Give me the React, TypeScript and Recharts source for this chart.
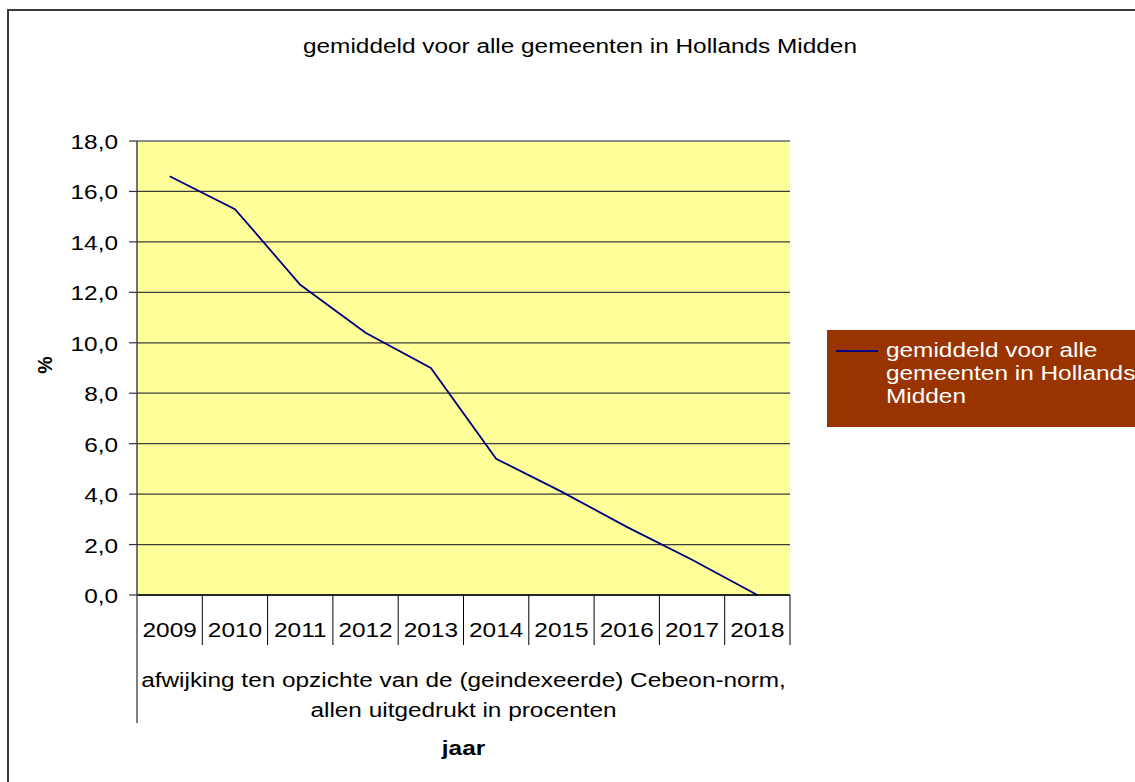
import React from 'react';
import { LineChart, Line, XAxis, YAxis, CartesianGrid, Legend, ReferenceLine } from 'recharts';

const years = ['2009', '2010', '2011', '2012', '2013', '2014', '2015', '2016', '2017', '2018'];
const gemiddeld = [16.6, 15.3, 12.3, 10.4, 9.0, 5.4, 4.1, 2.7, 1.4, 0.0];
const yTicks = [0, 2, 4, 6, 8, 10, 12, 14, 16, 18];
const seriesName = 'gemiddeld voor alle gemeenten in Hollands Midden';
const groupLabel = ['afwijking ten opzichte van de (geindexeerde) Cebeon-norm,', 'allen uitgedrukt in procenten'];

const data = years.map((jaar, i) => ({ jaar, waarde: gemiddeld[i] }));

const W = 1135;
const H = 782;
const PLOT_L = 137;
const PLOT_R = 790;
const BAND = (PLOT_R - PLOT_L) / years.length;
const FONT = '"Liberation Sans", Arial, sans-serif';
const FS = 19.5;
const SX = 1.25; // the source picture is stretched horizontally

const fmt = (v: number) => v.toFixed(1).replace('.', ',');

const YTick = (props: any) => {
  const { x, y, payload } = props;
  return (
    <text transform={`translate(${x},${y + 8}) scale(${SX},1)`} textAnchor="end" fontSize={FS} fontFamily={FONT} fill="#000">
      {fmt(payload.value)}
    </text>
  );
};

const XTick = (props: any) => {
  const { x, y, payload, index } = props;
  const last = index === years.length - 1;
  return (
    <g>
      {index > 0 && <line x1={x - BAND / 2} y1={y} x2={x - BAND / 2} y2={y + 50} stroke="#000" strokeWidth={1} />}
      {last && <line x1={x + BAND / 2} y1={y} x2={x + BAND / 2} y2={y + 50} stroke="#000" strokeWidth={1} />}
      <text transform={`translate(${x},${y + 42}) scale(${SX},1)`} textAnchor="middle" fontSize={FS} fontFamily={FONT} fill="#000">
        {payload.value}
      </text>
    </g>
  );
};

const XLabel = (props: any) => {
  const { viewBox } = props;
  const cx = viewBox.x + viewBox.width / 2;
  const top = viewBox.y;
  return (
    <g>
      <line x1={viewBox.x} y1={top} x2={viewBox.x} y2={top + 128} stroke="#555" strokeWidth={1.5} />
      {groupLabel.map((t, i) => (
        <text key={t} transform={`translate(${cx},${top + 92 + i * 30}) scale(${SX},1)`} textAnchor="middle" fontSize={FS} fontFamily={FONT} fill="#000">
          {t}
        </text>
      ))}
      <text transform={`translate(${cx},${top + 160}) scale(${SX},1)`} textAnchor="middle" fontSize={FS} fontWeight="bold" fontFamily={FONT} fill="#000">
        jaar
      </text>
    </g>
  );
};

const YLabel = (props: any) => {
  const { viewBox } = props;
  const cy = viewBox.y + viewBox.height / 2 - 3;
  return (
    <text transform={`translate(${52},${cy}) rotate(-90)`} textAnchor="middle" fontSize={FS} fontWeight="bold" fontFamily={FONT} fill="#000">
      %
    </text>
  );
};

const LegendBox = () => (
  <div style={{ position: 'relative', width: 308, height: 97, background: '#993300' }}>
    <div style={{ position: 'absolute', left: 9, top: 20, width: 42, height: 2, background: '#000080' }} />
    <div
      style={{
        position: 'absolute',
        left: 59,
        top: 9,
        width: 205,
        color: '#fff',
        fontFamily: FONT,
        fontSize: FS,
        lineHeight: '23px',
        transform: `scaleX(${SX})`,
        transformOrigin: 'left top',
        whiteSpace: 'normal',
      }}
    >
      {seriesName}
    </div>
  </div>
);

export default function App() {
  return (
    <div style={{ position: 'absolute', left: 0, top: 0, width: W, height: H, background: '#fff', overflow: 'hidden' }}>
      <LineChart width={W} height={H} data={data} margin={{ top: 141, right: W - PLOT_R, bottom: 0, left: 57 }}>
        <CartesianGrid vertical={false} fill="#FFFF99" stroke="#3c3c3c" strokeWidth={1.2} />
        <ReferenceLine y={18} stroke="#8c8c8c" strokeWidth={2} />
        <XAxis
          dataKey="jaar"
          height={187}
          padding={{ left: BAND / 2, right: BAND / 2 }}
          interval={0}
          tickLine={false}
          tickSize={0}
          tickMargin={0}
          axisLine={{ stroke: '#000', strokeWidth: 1.5 }}
          tick={<XTick />}
          label={<XLabel />}
        />
        <YAxis
          width={80}
          domain={[0, 18]}
          ticks={yTicks}
          interval={0}
          tickSize={8}
          tickMargin={11}
          tickLine={{ stroke: '#333', strokeWidth: 1.2 }}
          axisLine={{ stroke: '#444', strokeWidth: 1.5 }}
          tick={<YTick />}
          label={<YLabel />}
        />
        <YAxis
          yAxisId="right"
          orientation="right"
          width={0}
          domain={[0, 18]}
          tick={false}
          tickLine={false}
          axisLine={{ stroke: '#8c8c8c', strokeWidth: 2 }}
        />
        <Legend
          layout="vertical"
          align="center"
          verticalAlign="middle"
          wrapperStyle={{ left: 827, top: 330, width: 308 }}
          content={<LegendBox />}
        />
        <Line
          type="linear"
          dataKey="waarde"
          name={seriesName}
          stroke="#000080"
          strokeWidth={1.8}
          dot={false}
          activeDot={false}
          isAnimationActive={false}
        />
      </LineChart>
      <svg width={W} height={80} style={{ position: 'absolute', left: 0, top: 0 }}>
        <text transform={`translate(580,53) scale(${SX},1)`} textAnchor="middle" fontSize={FS} fontFamily={FONT} fill="#000">
          {seriesName}
        </text>
      </svg>
      <div
        style={{
          position: 'absolute',
          left: 7,
          top: 9,
          width: W,
          height: H,
          borderLeft: '2px solid #3a3a3a',
          borderTop: '2px solid #3a3a3a',
          pointerEvents: 'none',
        }}
      />
    </div>
  );
}
